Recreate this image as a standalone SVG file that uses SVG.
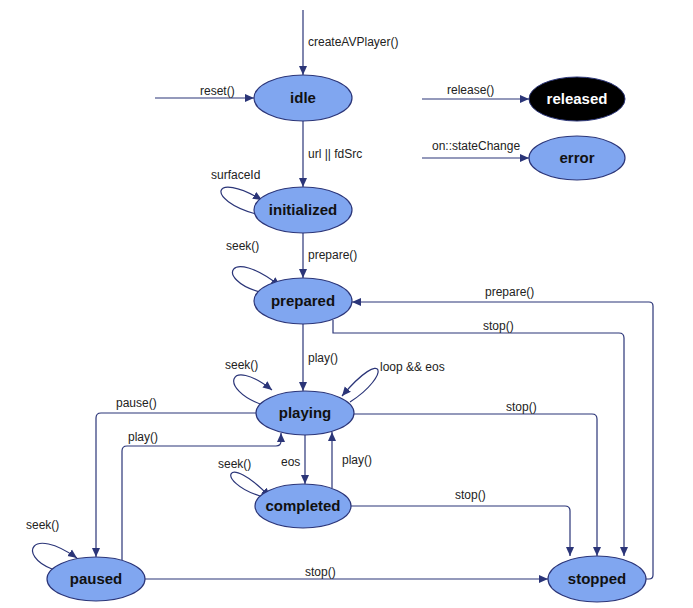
<svg xmlns="http://www.w3.org/2000/svg" width="693" height="608" viewBox="0 0 693 608">
<defs>
<marker id="a" markerWidth="10" markerHeight="10" refX="9" refY="5" orient="auto" markerUnits="userSpaceOnUse"><path d="M0,1 L9,5 L0,9 Z" fill="#2b3578"/></marker>
<style>
.n{fill:#80a6f0;stroke:#2b3578;stroke-width:1.2}
.t{font-family:"Liberation Sans",Arial,sans-serif;font-size:15px;font-weight:bold;fill:#111;text-anchor:middle}
.c path{fill:none;stroke:#2b3578;stroke-width:1.2;marker-end:url(#a)}
.l{font-family:"Liberation Sans",Arial,sans-serif;font-size:12px;fill:#222}
</style>
</defs>
<rect width="693" height="608" fill="#fff"/>
<g class="c">
<path d="M303,10 V75"/>
<path d="M155,98 H254"/>
<path d="M422,99 H529"/>
<path d="M422,158 H529"/>
<path d="M303,121 V187"/>
<path d="M256,214 C205,200 212,170 262,200"/>
<path d="M303,233 V278"/>
<path d="M260,292 C215,280 228,245 280,286"/>
<path d="M303,324 V391"/>
<path d="M333,320 V333 H619 Q624,333 624,338 V556"/>
<path d="M646,579 H649 Q653,579 653,575 V306 Q653,302 649,302 H352"/>
<path d="M263,405 C218,390 228,355 272,390"/>
<path d="M350,402 C392,375 385,345 342,396"/>
<path d="M256,413 H101 Q96,413 96,418 V557"/>
<path d="M122,560 V451 Q122,446 127,446 H276 Q281,446 281,441 V433"/>
<path d="M354,414 H592 Q597,414 597,419 V556"/>
<path d="M305,435 V484"/>
<path d="M332,488 V432"/>
<path d="M260,496 C215,482 225,450 270,497"/>
<path d="M351,506 H565 Q570,506 570,511 V556"/>
<path d="M52,569 C18,556 30,525 77,558"/>
<path d="M145,579 H548"/>
</g>
<g id="idle"><ellipse class="n" cx="303" cy="98" rx="49" ry="23"/><text class="t" x="303" y="103">idle</text></g>
<g id="released"><ellipse cx="577" cy="99" rx="48" ry="22" fill="#000" stroke="#2b3578"/><text class="t" x="577" y="104" fill="#fff" style="fill:#fff">released</text></g>
<g id="error"><ellipse class="n" cx="577" cy="158" rx="48" ry="22"/><text class="t" x="577" y="163">error</text></g>
<g id="initialized"><ellipse class="n" cx="303" cy="210" rx="49" ry="23"/><text class="t" x="303" y="215">initialized</text></g>
<g id="prepared"><ellipse class="n" cx="303" cy="301" rx="49" ry="23"/><text class="t" x="303" y="306">prepared</text></g>
<g id="playing"><ellipse class="n" cx="305" cy="413" rx="49" ry="22"/><text class="t" x="305" y="418">playing</text></g>
<g id="completed"><ellipse class="n" cx="303" cy="506" rx="48" ry="22"/><text class="t" x="303" y="511">completed</text></g>
<g id="paused"><ellipse class="n" cx="96" cy="579" rx="49" ry="22"/><text class="t" x="96" y="584">paused</text></g>
<g id="stopped"><ellipse class="n" cx="597" cy="579" rx="49" ry="23"/><text class="t" x="597" y="584">stopped</text></g>
<g id="labels">
<text class="l" x="308" y="46">createAVPlayer()</text>
<text class="l" x="200" y="95">reset()</text>
<text class="l" x="447" y="94">release()</text>
<text class="l" x="432" y="150">on::stateChange</text>
<text class="l" x="308" y="158">url || fdSrc</text>
<text class="l" x="211" y="179">surfaceId</text>
<text class="l" x="308" y="259">prepare()</text>
<text class="l" x="226" y="250">seek()</text>
<text class="l" x="485" y="296">prepare()</text>
<text class="l" x="483" y="330">stop()</text>
<text class="l" x="308" y="362">play()</text>
<text class="l" x="225" y="369">seek()</text>
<text class="l" x="380" y="371">loop &amp;&amp; eos</text>
<text class="l" x="116" y="407">pause()</text>
<text class="l" x="506" y="411">stop()</text>
<text class="l" x="128" y="441">play()</text>
<text class="l" x="281" y="466">eos</text>
<text class="l" x="342" y="464">play()</text>
<text class="l" x="218" y="468">seek()</text>
<text class="l" x="455" y="499">stop()</text>
<text class="l" x="26" y="529">seek()</text>
<text class="l" x="305" y="576">stop()</text>
</g>
</svg>
